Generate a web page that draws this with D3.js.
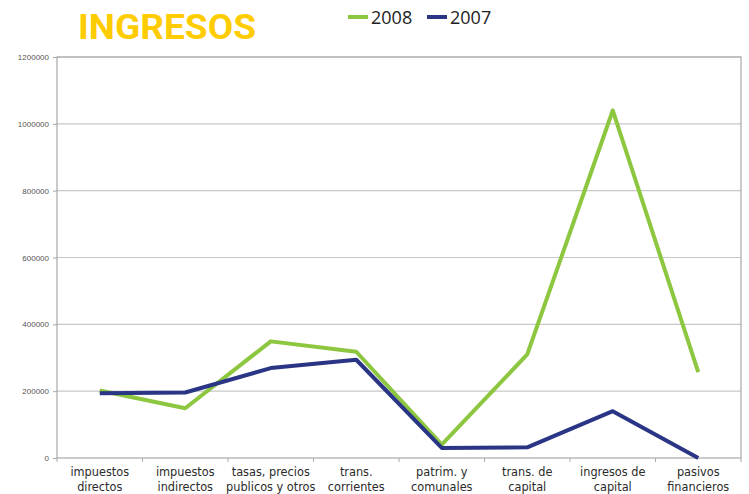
<!DOCTYPE html>
<html>
<head>
<meta charset="utf-8">
<script src="https://d3js.org/d3.v7.min.js"></script>
<style>
  body { margin: 0; background: #fff; }
  svg { display: block; }
</style>
</head>
<body>
<svg id="main" width="749" height="494"></svg>
<script>
const categories = [
  ["impuestos", "directos"],
  ["impuestos", "indirectos"],
  ["tasas, precios", "publicos y otros"],
  ["trans.", "corrientes"],
  ["patrim. y", "comunales"],
  ["trans. de", "capital"],
  ["ingresos de", "capital"],
  ["pasivos", "financieros"]
];
const values2008 = [202000, 149000, 349000, 318000, 40000, 310000, 1040000, 257000];
const values2007 = [194000, 196000, 269000, 294000, 30000, 32000, 140000, 0];
const yTicks = [0, 200000, 400000, 600000, 800000, 1000000, 1200000];

function draw() {
  const svg = d3.select("#main");
  const left = 57, right = 741, top = 57, bottom = 458;

  const x = d3.scaleBand().domain(d3.range(categories.length)).range([left, right]);
  const y = d3.scaleLinear().domain([0, 1200000]).range([bottom, top]);
  const cx = i => x(i) + x.bandwidth() / 2;

  // grid
  svg.append("g").selectAll("line").data(yTicks.slice(1)).join("line")
    .attr("x1", left).attr("x2", right)
    .attr("y1", d => y(d)).attr("y2", d => y(d))
    .attr("stroke", "#c8c8c8").attr("stroke-width", 1.2);

  // plot border
  svg.append("rect")
    .attr("x", left).attr("y", top)
    .attr("width", right - left).attr("height", bottom - top)
    .attr("fill", "none").attr("stroke", "#a8a8a8").attr("stroke-width", 1.2);

  // y axis
  const yAxis = svg.append("g")
    .attr("transform", `translate(${left},0)`)
    .call(d3.axisLeft(y).tickValues(yTicks).tickSize(4).tickPadding(4).tickFormat(d3.format("d")));
  yAxis.select(".domain").remove();
  yAxis.selectAll("line").attr("stroke", "#a8a8a8");
  yAxis.selectAll("text")
    .attr("fill", "#555").style("font-family", "Liberation Sans, sans-serif").style("font-size", "8px");

  // x ticks between categories
  const bounds = d3.range(categories.length + 1).map(i => left + i * x.bandwidth());
  svg.append("g").selectAll("line").data(bounds).join("line")
    .attr("x1", d => d).attr("x2", d => d)
    .attr("y1", bottom).attr("y2", bottom + 4)
    .attr("stroke", "#a8a8a8");

  // x labels, two lines each
  [0, 1].forEach(k => {
    svg.append("g").selectAll("text").data(categories).join("text")
      .attr("x", (d, i) => cx(i))
      .attr("y", 476 + k * 15)
      .attr("text-anchor", "middle")
      .attr("fill", "#2b2b2b")
      .style("font-family", "DejaVu Sans Condensed, sans-serif")
      .style("font-size", "12.6px")
      .text(d => d[k]);
  });

  const line = d3.line()
    .x((d, i) => cx(i))
    .y(d => y(d));

  svg.append("path").datum(values2008)
    .attr("d", line).attr("fill", "none")
    .attr("stroke", "#8dc63f").attr("stroke-width", 4).attr("stroke-linejoin", "round");
  svg.append("path").datum(values2007)
    .attr("d", line).attr("fill", "none")
    .attr("stroke", "#2a3585").attr("stroke-width", 4).attr("stroke-linejoin", "round");

  // title
  svg.append("text")
    .attr("x", 78).attr("y", 39)
    .attr("fill", "#ffcc00")
    .style("font-family", "Roboto, sans-serif")
    .style("font-weight", "bold")
    .style("font-size", "35px")
    .attr("textLength", 178)
    .attr("lengthAdjust", "spacingAndGlyphs")
    .text("INGRESOS");

  // legend
  const legend = [["2008", "#8dc63f", 348], ["2007", "#2a3585", 427]];
  legend.forEach(([name, color, lx]) => {
    svg.append("line")
      .attr("x1", lx).attr("x2", lx + 20).attr("y1", 17).attr("y2", 17)
      .attr("stroke", color).attr("stroke-width", 4);
    svg.append("text")
      .attr("x", lx + 23).attr("y", 24)
      .attr("fill", "#222")
      .style("font-family", "Open Sans, sans-serif")
      .style("font-size", "18px")
      .text(name);
  });
}

draw();
</script>
</body>
</html>
